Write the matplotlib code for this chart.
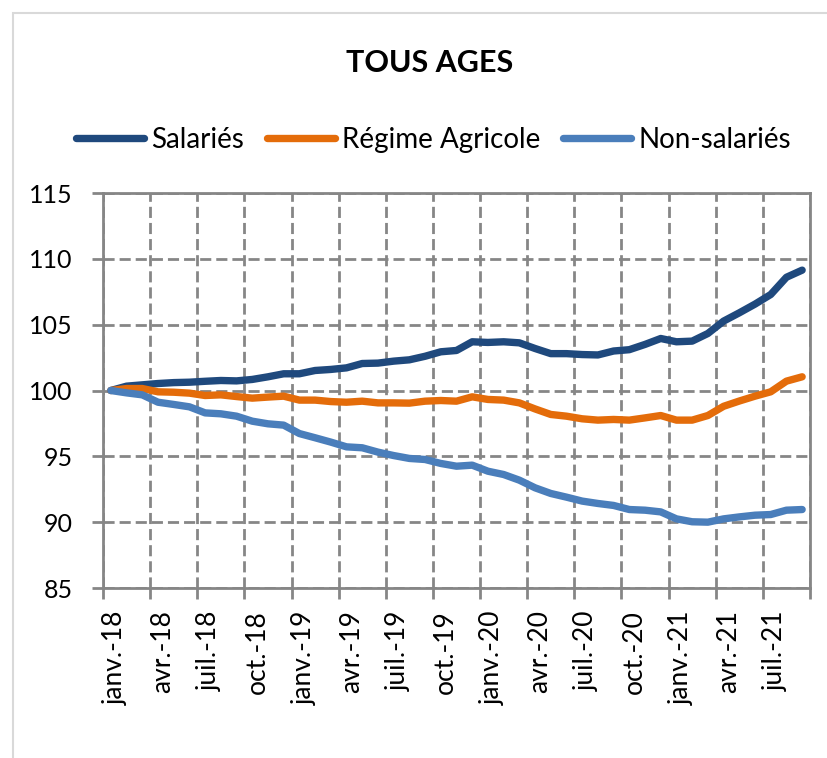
import matplotlib
matplotlib.use("Agg")
from matplotlib import pyplot as plt
from matplotlib.patches import Rectangle

months = ['janv.', 'févr.', 'mars', 'avr.', 'mai', 'juin',
          'juil.', 'août', 'sept.', 'oct.', 'nov.', 'déc.']
years = ['18', '19', '20', '21']

salaries = [100.0, 100.33, 100.43, 100.53, 100.6, 100.63, 100.7, 100.76, 100.73,
            100.84, 101.04, 101.27, 101.27, 101.52, 101.6, 101.72, 102.05, 102.08,
            102.23, 102.33, 102.6, 102.94, 103.04, 103.7, 103.65, 103.7, 103.62,
            103.19, 102.8, 102.8, 102.73, 102.7, 103.0, 103.1, 103.5, 103.95,
            103.7, 103.75, 104.33, 105.27, 105.9, 106.56, 107.29, 108.6, 109.14]
agricole = [100.0, 100.15, 100.15, 99.9, 99.87, 99.8, 99.62, 99.67, 99.54,
            99.42, 99.5, 99.57, 99.27, 99.27, 99.16, 99.11, 99.19, 99.06,
            99.06, 99.04, 99.19, 99.24, 99.19, 99.52, 99.32, 99.27, 99.06,
            98.6, 98.18, 98.05, 97.85, 97.75, 97.8, 97.75, 97.92, 98.1,
            97.75, 97.75, 98.1, 98.8, 99.2, 99.57, 99.9, 100.71, 101.04]
non_salaries = [100.0, 99.82, 99.67, 99.11, 98.94, 98.76, 98.3, 98.23, 98.05,
                97.67, 97.47, 97.37, 96.73, 96.41, 96.08, 95.72, 95.65, 95.32,
                95.06, 94.84, 94.76, 94.46, 94.25, 94.33, 93.87, 93.62, 93.19,
                92.61, 92.18, 91.9, 91.6, 91.42, 91.27, 90.96, 90.91, 90.78,
                90.25, 90.03, 90.0, 90.25, 90.4, 90.53, 90.58, 90.91, 90.96]

labels = [m + '-' + y for y in years for m in months][:len(salaries)]
x = [i + 0.5 for i in range(len(salaries))]

plt.rcParams['font.family'] = ['Lato', 'DejaVu Sans']

fig = plt.figure(figsize=(8.28, 7.58), dpi=100)
ax = fig.add_axes([103/828, 1-588/758, (810-103)/828, (588-193)/758])

# outer chart frame (runs off the right and bottom)
fig.patches.append(Rectangle((13/828, -0.05), 1.2, 1-12.7/758+0.05,
                             transform=fig.transFigure, fill=False,
                             edgecolor='#d9d9d9', linewidth=1.5))

lw = 5.3
ax.plot(x, salaries, color='#1f497d', lw=lw, solid_capstyle='round',
        solid_joinstyle='round', label='Salariés', zorder=4)
ax.plot(x, agricole, color='#e46c0a', lw=lw, solid_capstyle='round',
        solid_joinstyle='round', label='Régime Agricole', zorder=4)
ax.plot(x, non_salaries, color='#4a7ebb', lw=lw, solid_capstyle='round',
        solid_joinstyle='round', label='Non-salariés', zorder=4)

ax.set_xlim(0, 45)
ax.set_ylim(85, 115)
ax.set_yticks(range(85, 116, 5))
ax.set_xticks(range(0, 46, 3))
ax.set_xticklabels([labels[i] for i in range(0, 45, 3)] + [''])

grey = '#868686'
ax.grid(True, color=grey, linestyle=(0, (4, 1.8)), linewidth=2)
ax.set_axisbelow(True)
for s in ax.spines.values():
    s.set_color(grey)
    s.set_linewidth(2)
ax.tick_params(axis='both', colors=grey, width=2, length=8, labelcolor='black')
ax.tick_params(axis='y', labelsize=18, pad=14)
ax.tick_params(axis='x', labelsize=19, pad=8)
for t in ax.get_xticklabels():
    t.set_rotation(90)
    t.set_ha('left')
    t.set_va('top')

fig.text(0.519, 1-63/758, 'TOUS AGES', ha='center', va='center',
         fontsize=22, fontweight='bold')

leg = fig.legend(loc='center', bbox_to_anchor=(0.5236, 1-140/758), ncol=3,
                 frameon=False, fontsize=20, handlelength=2.45,
                 handletextpad=0.25, columnspacing=0.83, borderpad=0)

fig.savefig('out.png', dpi=100)
